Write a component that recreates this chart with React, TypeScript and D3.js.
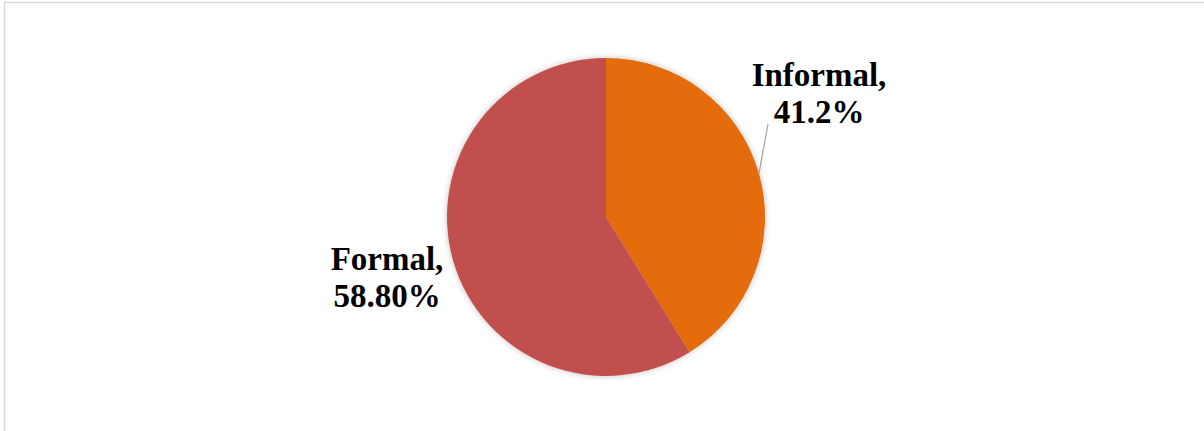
import React from "react";
import * as d3 from "d3";

const categories = ["Informal", "Formal"];
const values = [41.2, 58.8];
const labelTexts = [["Informal,", "41.2%"], ["Formal,", "58.80%"]];
const colors = ["#E46C0A", "#C0504D"];

export default function App() {
  const W = 1204, H = 431;
  const cx = 606, cy = 217, r = 159;
  const data = categories.map((c, i) => ({ c, v: values[i], i }));
  const pie = d3.pie<any>().value((d) => d.v).sort(null).startAngle(0).endAngle(2 * Math.PI);
  const arcs = pie(data);
  const arc = d3.arc<any>().innerRadius(0).outerRadius(r);
  const labelPos = [
    { x: 819, y: 86 },
    { x: 387, y: 270 },
  ];
  const midInf = (arcs[0].startAngle + arcs[0].endAngle) / 2;
  const lx1 = cx + r * Math.sin(midInf);
  const ly1 = cy - r * Math.cos(midInf);
  const font = "'Liberation Serif', 'Times New Roman', serif";
  return (
    <div style={{ position: "fixed", left: 0, top: 0 }}>
      <svg width={W} height={H} style={{ display: "block" }}>
        <defs>
          <filter id="sh" x="-20%" y="-20%" width="140%" height="140%">
            <feGaussianBlur in="SourceAlpha" stdDeviation="3" />
            <feComponentTransfer>
              <feFuncA type="linear" slope="0.25" />
            </feComponentTransfer>
            <feMerge>
              <feMergeNode />
              <feMergeNode in="SourceGraphic" />
            </feMerge>
          </filter>
        </defs>
        <rect x={0} y={0} width={W} height={H} fill="#fff" />
        <rect x={4.5} y={2.5} width={W + 10} height={H + 10} fill="none" stroke="#d9d9d9" strokeWidth={1.5} />
        <g transform={`translate(${cx},${cy})`} filter="url(#sh)">
          {arcs.map((a, i) => (
            <path key={i} d={arc(a) || ""} fill={colors[i]} />
          ))}
        </g>
        <line x1={lx1} y1={ly1} x2={768} y2={124} stroke="#a6a6a6" strokeWidth={1.3} />
        {labelTexts.map((lines, i) => (
          <text key={i} textAnchor="middle" fontFamily={font} fontWeight="bold" fontSize={33} fill="#000">
            {lines.map((t, j) => (
              <tspan key={j} x={labelPos[i].x} y={labelPos[i].y + j * 37}>{t}</tspan>
            ))}
          </text>
        ))}
      </svg>
    </div>
  );
}
